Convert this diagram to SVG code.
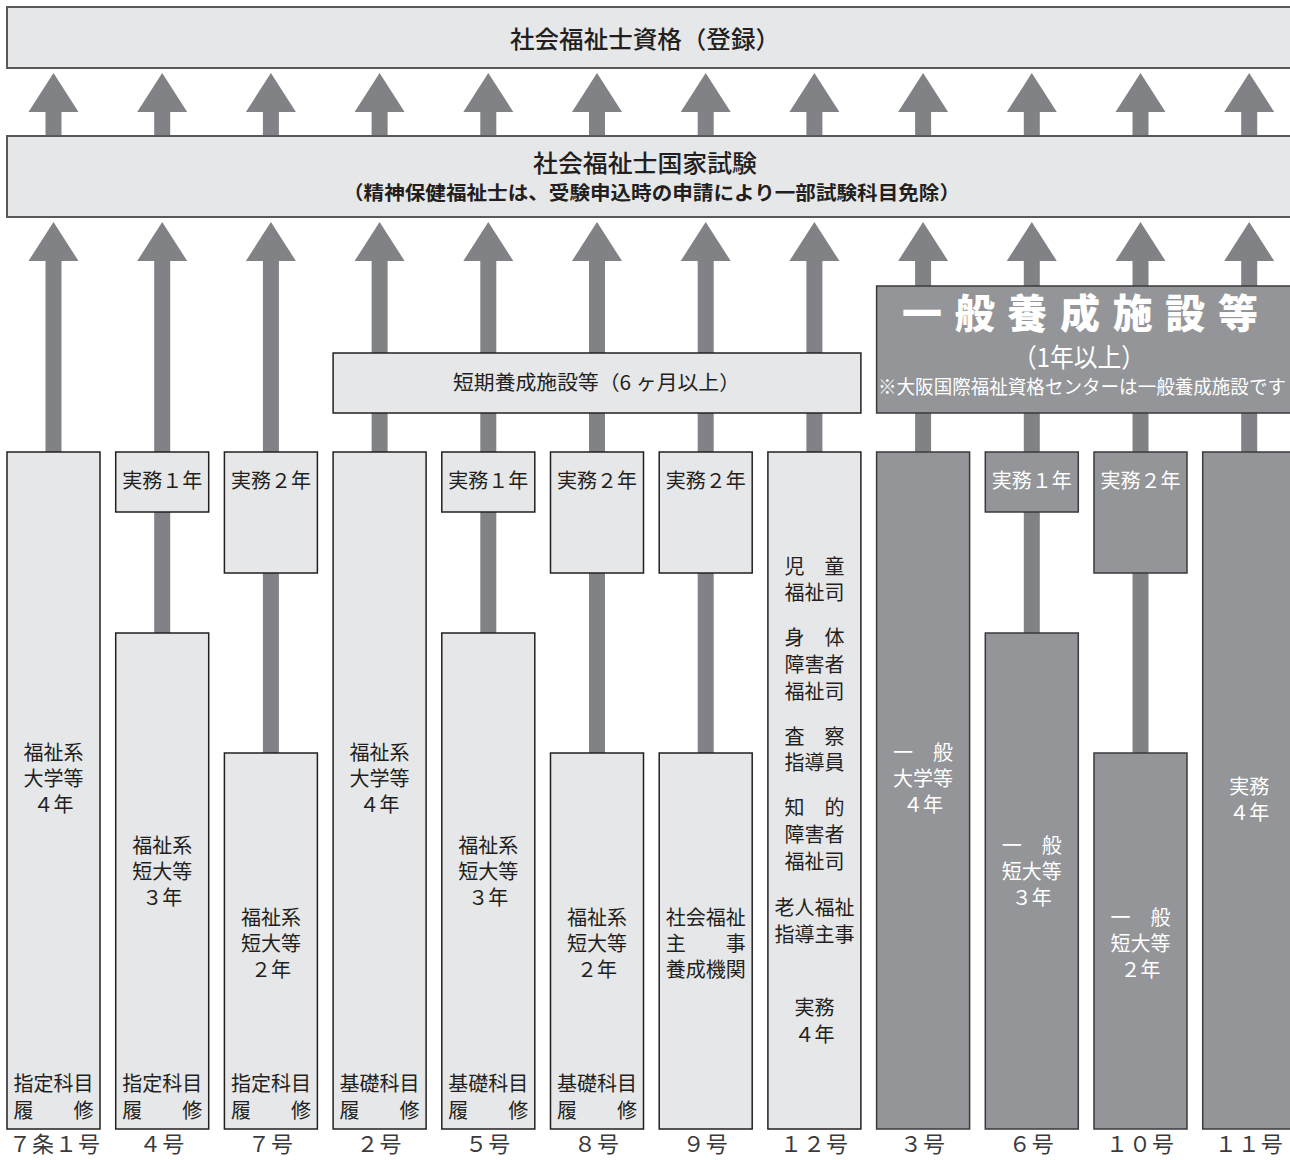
<svg xmlns="http://www.w3.org/2000/svg" width="1290" height="1160" viewBox="0 0 1290 1160">
<style>
text{font-family:"Noto Sans CJK JP","Noto Sans",sans-serif;fill:#231f20;}
.lb{fill:#e6e7e8;stroke:#231f20;stroke-width:1.5;}
.db{fill:#939598;stroke:#3a3a3c;stroke-width:1.5;}
.hb{fill:#e6e7e8;stroke:#58595b;stroke-width:2;}
.ar{fill:#808285;}
.t{font-size:20px;text-anchor:middle;}
.w{fill:#ffffff;}
.n{font-size:22px;text-anchor:middle;fill:#3a3a3c;letter-spacing:1px;}
</style>
<defs>
<g id="arrA"><polygon class="ar" points="0,73 25,112 -25,112"/><rect class="ar" x="-8" y="111" width="16" height="26"/></g>
<g id="arrB"><polygon class="ar" points="0,222 25,261 -25,261"/><rect class="ar" x="-8" y="260" width="16" height="500"/></g>
</defs>
<rect width="1290" height="1160" fill="#ffffff"/>

<g id="connectors">
<use href="#arrA" x="53.5"/><use href="#arrA" x="162.2"/><use href="#arrA" x="270.9"/><use href="#arrA" x="379.6"/>
<use href="#arrA" x="488.3"/><use href="#arrA" x="597"/><use href="#arrA" x="705.7"/><use href="#arrA" x="814.4"/>
<use href="#arrA" x="923.1"/><use href="#arrA" x="1031.8"/><use href="#arrA" x="1140.5"/><use href="#arrA" x="1249.2"/>
<use href="#arrB" x="53.5"/><use href="#arrB" x="162.2"/><use href="#arrB" x="270.9"/><use href="#arrB" x="379.6"/>
<use href="#arrB" x="488.3"/><use href="#arrB" x="597"/><use href="#arrB" x="705.7"/><use href="#arrB" x="814.4"/>
<use href="#arrB" x="923.1"/><use href="#arrB" x="1031.8"/><use href="#arrB" x="1140.5"/><use href="#arrB" x="1249.2"/>
</g>

<g id="registration">
<rect class="hb" x="7" y="7" width="1300" height="61"/>
<text x="510" y="48" font-size="24" font-weight="500" textLength="270" lengthAdjust="spacingAndGlyphs">社会福祉士資格（登録）</text>
</g>

<g id="exam">
<rect class="hb" x="7" y="136" width="1300" height="81"/>
<text x="533" y="172" font-size="24" font-weight="500" textLength="224" lengthAdjust="spacingAndGlyphs">社会福祉士国家試験</text>
<text x="343" y="200" font-size="19" font-weight="bold" textLength="617" lengthAdjust="spacingAndGlyphs">（精神保健福祉士は、受験申込時の申請により一部試験科目免除）</text>
</g>

<g id="short-course">
<rect class="lb" x="333.1" y="353" width="527.8" height="60"/>
<text x="453" y="390" font-size="20" textLength="287" lengthAdjust="spacingAndGlyphs">短期養成施設等（6 ヶ月以上）</text>
</g>

<g id="general-course">
<rect class="db" x="876.6" y="286" width="430" height="127"/>
<text class="w" x="902" y="328" font-size="40" font-weight="900" textLength="356" lengthAdjust="spacing">一般養成施設等</text>
<text class="w" x="1013" y="367" font-size="26" textLength="132" lengthAdjust="spacingAndGlyphs">（1年以上）</text>
<text class="w" x="878" y="394" font-size="19" textLength="408" lengthAdjust="spacingAndGlyphs">※大阪国際福祉資格センターは一般養成施設です</text>
</g>

<g id="col-7-1">
<rect class="lb" x="7" y="452" width="93" height="677"/>
<text class="t" x="53.5" y="760">福祉系</text>
<text class="t" x="53.5" y="786">大学等</text>
<text class="t" x="53.5" y="812">４年</text>
<text class="t" x="53.5" y="1091">指定科目</text>
<text class="t" x="53.5" y="1118">履　　修</text>
<text class="n" x="55" y="1152">７条１号</text>
</g>

<g id="col-4">
<rect class="lb" x="115.7" y="452" width="93" height="60"/>
<text class="t" x="162.2" y="488">実務１年</text>
<rect class="lb" x="115.7" y="633" width="93" height="496"/>
<text class="t" x="162.2" y="853">福祉系</text>
<text class="t" x="162.2" y="879">短大等</text>
<text class="t" x="162.2" y="905">３年</text>
<text class="t" x="162.2" y="1091">指定科目</text>
<text class="t" x="162.2" y="1118">履　　修</text>
<text class="n" x="162.2" y="1152">４号</text>
</g>

<g id="col-7">
<rect class="lb" x="224.4" y="452" width="93" height="121"/>
<text class="t" x="270.9" y="488">実務２年</text>
<rect class="lb" x="224.4" y="753" width="93" height="376"/>
<text class="t" x="270.9" y="925">福祉系</text>
<text class="t" x="270.9" y="951">短大等</text>
<text class="t" x="270.9" y="977">２年</text>
<text class="t" x="270.9" y="1091">指定科目</text>
<text class="t" x="270.9" y="1118">履　　修</text>
<text class="n" x="270.9" y="1152">７号</text>
</g>

<g id="col-2">
<rect class="lb" x="333.1" y="452" width="93" height="677"/>
<text class="t" x="379.6" y="760">福祉系</text>
<text class="t" x="379.6" y="786">大学等</text>
<text class="t" x="379.6" y="812">４年</text>
<text class="t" x="379.6" y="1091">基礎科目</text>
<text class="t" x="379.6" y="1118">履　　修</text>
<text class="n" x="379.6" y="1152">２号</text>
</g>

<g id="col-5">
<rect class="lb" x="441.8" y="452" width="93" height="60"/>
<text class="t" x="488.3" y="488">実務１年</text>
<rect class="lb" x="441.8" y="633" width="93" height="496"/>
<text class="t" x="488.3" y="853">福祉系</text>
<text class="t" x="488.3" y="879">短大等</text>
<text class="t" x="488.3" y="905">３年</text>
<text class="t" x="488.3" y="1091">基礎科目</text>
<text class="t" x="488.3" y="1118">履　　修</text>
<text class="n" x="488.3" y="1152">５号</text>
</g>

<g id="col-8">
<rect class="lb" x="550.5" y="452" width="93" height="121"/>
<text class="t" x="597" y="488">実務２年</text>
<rect class="lb" x="550.5" y="753" width="93" height="376"/>
<text class="t" x="597" y="925">福祉系</text>
<text class="t" x="597" y="951">短大等</text>
<text class="t" x="597" y="977">２年</text>
<text class="t" x="597" y="1091">基礎科目</text>
<text class="t" x="597" y="1118">履　　修</text>
<text class="n" x="597" y="1152">８号</text>
</g>

<g id="col-9">
<rect class="lb" x="659.2" y="452" width="93" height="121"/>
<text class="t" x="705.7" y="488">実務２年</text>
<rect class="lb" x="659.2" y="753" width="93" height="376"/>
<text class="t" x="705.7" y="925">社会福祉</text>
<text class="t" x="705.7" y="951">主　　事</text>
<text class="t" x="705.7" y="977">養成機関</text>
<text class="n" x="705.7" y="1152">９号</text>
</g>

<g id="col-12">
<rect class="lb" x="767.9" y="452" width="93" height="677"/>
<text class="t" x="814.4" y="574">児　童</text>
<text class="t" x="814.4" y="600">福祉司</text>
<text class="t" x="814.4" y="645">身　体</text>
<text class="t" x="814.4" y="672">障害者</text>
<text class="t" x="814.4" y="699">福祉司</text>
<text class="t" x="814.4" y="744">査　察</text>
<text class="t" x="814.4" y="770">指導員</text>
<text class="t" x="814.4" y="815">知　的</text>
<text class="t" x="814.4" y="842">障害者</text>
<text class="t" x="814.4" y="869">福祉司</text>
<text class="t" x="814.4" y="915">老人福祉</text>
<text class="t" x="814.4" y="942">指導主事</text>
<text class="t" x="814.4" y="1015">実務</text>
<text class="t" x="814.4" y="1042">４年</text>
<text class="n" x="814.4" y="1152">１２号</text>
</g>

<g id="col-3">
<rect class="db" x="876.6" y="452" width="93" height="677"/>
<text class="t w" x="923.1" y="760">一　般</text>
<text class="t w" x="923.1" y="786">大学等</text>
<text class="t w" x="923.1" y="812">４年</text>
<text class="n" x="923.1" y="1152">３号</text>
</g>

<g id="col-6">
<rect class="db" x="985.3" y="452" width="93" height="60"/>
<text class="t w" x="1031.8" y="488">実務１年</text>
<rect class="db" x="985.3" y="633" width="93" height="496"/>
<text class="t w" x="1031.8" y="853">一　般</text>
<text class="t w" x="1031.8" y="879">短大等</text>
<text class="t w" x="1031.8" y="905">３年</text>
<text class="n" x="1031.8" y="1152">６号</text>
</g>

<g id="col-10">
<rect class="db" x="1094" y="452" width="93" height="121"/>
<text class="t w" x="1140.5" y="488">実務２年</text>
<rect class="db" x="1094" y="753" width="93" height="376"/>
<text class="t w" x="1140.5" y="925">一　般</text>
<text class="t w" x="1140.5" y="951">短大等</text>
<text class="t w" x="1140.5" y="977">２年</text>
<text class="n" x="1140.5" y="1152">１０号</text>
</g>

<g id="col-11">
<rect class="db" x="1202.7" y="452" width="93" height="677"/>
<text class="t w" x="1249.2" y="794">実務</text>
<text class="t w" x="1249.2" y="820">４年</text>
<text class="n" x="1249.2" y="1152">１１号</text>
</g>
</svg>
